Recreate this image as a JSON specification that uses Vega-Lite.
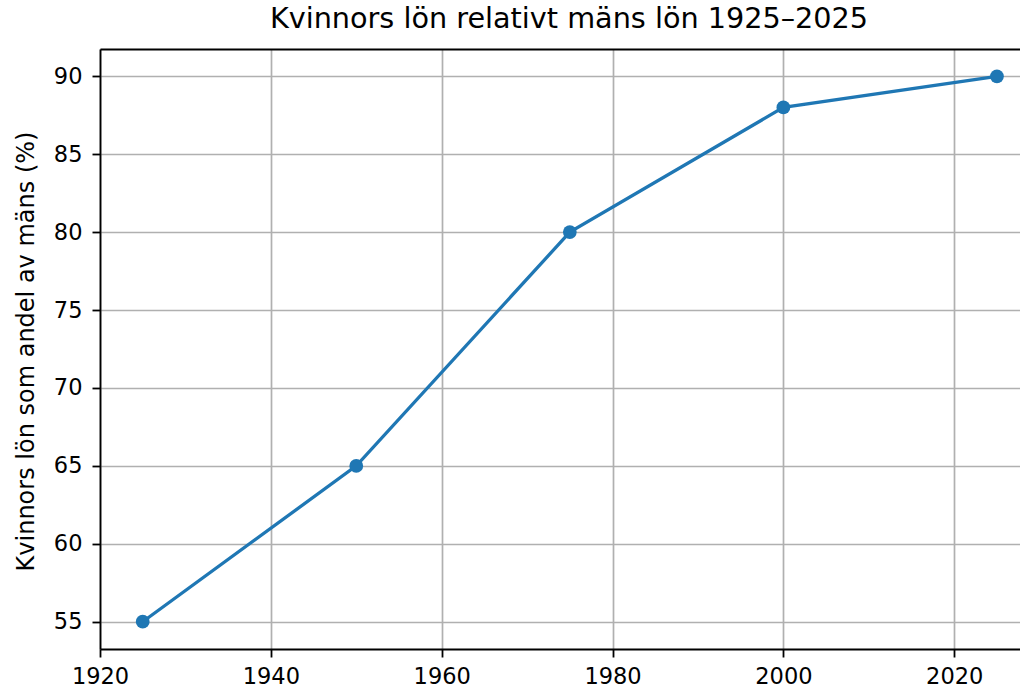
{
  "$schema": "https://vega.github.io/schema/vega-lite/v6.json",
  "autosize": {"type": "none"},
  "width": 920,
  "height": 600,
  "padding": {"left": 100, "top": 49, "right": 0, "bottom": 39},
  "background": "white",
  "config": {
    "font": "DejaVu Sans",
    "view": {"stroke": null},
    "axis": {
      "labelFont": "DejaVu Sans",
      "titleFont": "DejaVu Sans",
      "labelFontSize": 22.5,
      "titleFontSize": 24,
      "labelColor": "#000000",
      "titleColor": "#000000",
      "titleFontWeight": "normal",
      "domainColor": "#000000",
      "domainWidth": 1.8,
      "tickColor": "#000000",
      "tickWidth": 1.8,
      "tickSize": 8,
      "gridColor": "#b0b0b0",
      "gridWidth": 1.7,
      "gridOpacity": 1
    }
  },
  "title": {
    "text": "Kvinnors lön relativt mäns lön 1925–2025",
    "font": "DejaVu Sans",
    "fontSize": 28.7,
    "fontWeight": "normal",
    "color": "#000000",
    "anchor": "middle",
    "frame": "group",
    "dx": 9,
    "baseline": "alphabetic",
    "offset": -8
  },
  "data": {
    "values": [
      {"year": 1925, "pct": 55},
      {"year": 1950, "pct": 65},
      {"year": 1975, "pct": 80},
      {"year": 2000, "pct": 88},
      {"year": 2025, "pct": 90}
    ]
  },
  "resolve": {"axis": {"x": "independent"}},
  "layer": [
    {
      "mark": {
        "type": "line",
        "color": "#1f77b4",
        "strokeWidth": 3.3,
        "point": {"filled": true, "size": 190, "color": "#1f77b4", "opacity": 1}
      },
      "encoding": {
        "x": {
          "field": "year",
          "type": "quantitative",
          "scale": {"domain": [1920, 2027.7], "nice": false, "zero": false},
          "axis": {
            "title": null,
            "values": [1920, 1940, 1960, 1980, 2000, 2020],
            "format": "d",
            "labelPadding": 8,
            "labelFlush": false,
            "labelOverlap": false
          }
        },
        "y": {
          "field": "pct",
          "type": "quantitative",
          "scale": {"domain": [53.25, 91.75], "nice": false, "zero": false},
          "axis": {
            "title": "Kvinnors lön som andel av mäns (%)",
            "values": [55, 60, 65, 70, 75, 80, 85, 90],
            "labelPadding": 10,
            "titleX": -67,
            "titleY": 302,
            "titleBaseline": "alphabetic",
            "labelFlush": false
          }
        }
      }
    },
    {
      "mark": {"type": "point", "opacity": 0},
      "encoding": {
        "x": {
          "field": "year",
          "type": "quantitative",
          "axis": {
            "orient": "top",
            "title": null,
            "labels": false,
            "ticks": false,
            "grid": false,
            "domain": true
          }
        },
        "y": {"field": "pct", "type": "quantitative"}
      }
    }
  ]
}
